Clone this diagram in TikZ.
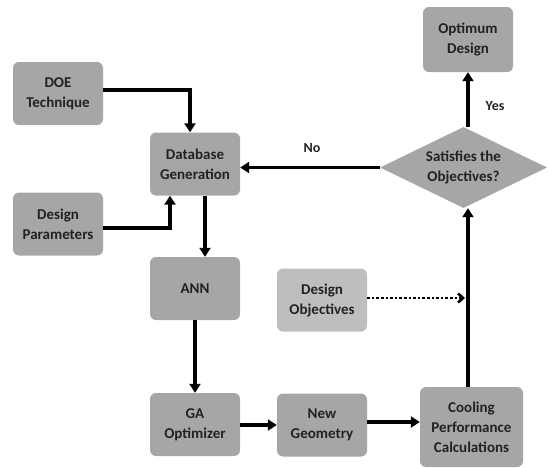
\documentclass[tikz,border=0pt]{standalone}
\usepackage{fontspec}
\setmainfont{Carlito}
\usetikzlibrary{shapes.geometric,arrows.meta}
\definecolor{boxgray}{HTML}{A6A6A6}
\definecolor{lightgray2}{HTML}{BEBEBE}
\definecolor{txt}{HTML}{222222}
\begin{document}
\begin{tikzpicture}[x=1pt,y=-1pt,
  box/.style={fill=boxgray, rounded corners=6pt, minimum width=90pt, minimum height=63pt,
    align=center, font=\bfseries\fontsize{15}{20}\selectfont, text=txt, inner sep=1pt},
  lbox/.style={box, fill=lightgray2},
  dia/.style={diamond, fill=boxgray, minimum width=167pt, minimum height=81pt, inner sep=0pt,
    aspect=2.06, align=center, font=\bfseries\fontsize{15}{20}\selectfont, text=txt},
  arr/.style={line width=3.2pt, -{Triangle[length=9pt,width=11pt]}},
  dotarr/.style={line width=2.6pt, dotted, -{Straight Barb[length=5pt,width=9pt]}},
  lab/.style={font=\bfseries\fontsize{14}{16}\selectfont, text=txt}]
\useasboundingbox (0,0) rectangle (548,467);
\node[box] (doe) at (58,93.5) {DOE\\Technique};
\node[box] (db) at (195,164) {Database\\Generation};
\node[box] (dp) at (58,224) {Design\\Parameters};
\node[box] (ann) at (195,288.5) {ANN};
\node[box] (ga) at (195,424.5) {GA\\Optimizer};
\node[box] (ng) at (322,425) {New\\Geometry};
\node[box, minimum width=103pt, minimum height=80pt] (cool) at (471.5,427) {Cooling\\Performance\\Calculations};
\node[lbox] (dobj) at (322,300) {Design\\Objectives};
\node[box, minimum height=65pt] (opt) at (468,39.5) {Optimum\\Design};
\node[dia] (sat) at (463.5,167.5) {Satisfies the\\Objectives?};
\coordinate (jn) at (468,298);
\draw[arr] (doe.east |- 0,90) -| (190,0 |- db.north);
\draw[arr] (dp.east |- 0,228) -| (170,0 |- db.south);
\draw[arr] (205,0 |- db.south) -- (205,0 |- ann.north);
\draw[arr] (ann) -- (ga);
\draw[arr] (ga.east |- 0,425) -- (ng.west |- 0,425);
\draw[arr] (ng.east |- 0,422) -- (cool.west |- 0,422);
\draw[arr] (468,0 |- cool.north) -- (468,0 |- sat.south);
\draw[arr] (468,0 |- sat.north) -- (468,0 |- opt.south);
\draw[arr] (sat.west) -- (db.east |- sat.west);
\draw[dotarr] (dobj.east |- jn) -- ([xshift=-3pt]jn);
\node[lab] (yes) at (495,106) {Yes};
\node[lab] (no) at (312,148) {No};
\end{tikzpicture}
\end{document}
